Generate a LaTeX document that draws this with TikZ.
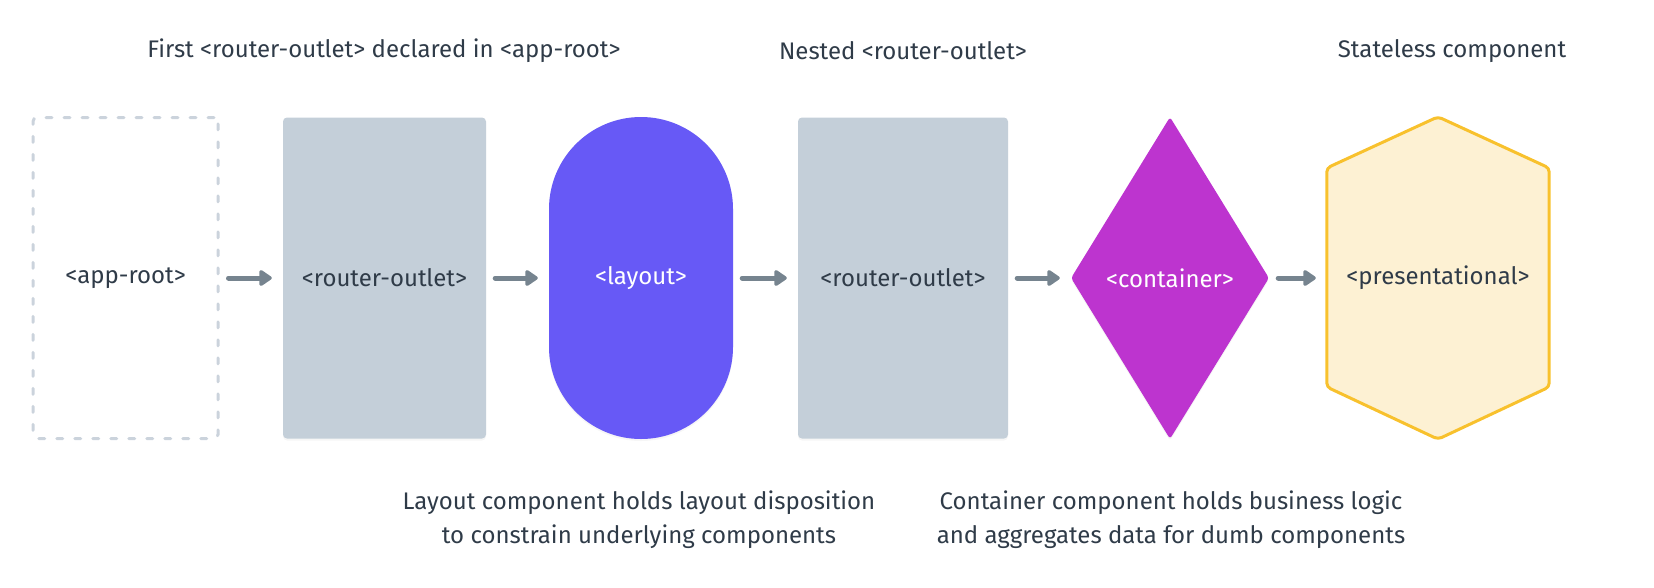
\documentclass[tikz,border=0pt]{standalone}
\usepackage{fontspec}
\setmainfont{Fira Sans}
\usetikzlibrary{arrows.meta,shapes.geometric,calc,backgrounds,shadows}
\definecolor{txt}{HTML}{2F3B48}
\definecolor{boxgray}{HTML}{C4CFD9}
\definecolor{dashc}{HTML}{CBD3DC}
\definecolor{arrowc}{HTML}{76848F}
\definecolor{layoutc}{HTML}{6759F6}
\definecolor{containerc}{HTML}{BD34CF}
\definecolor{hexfill}{HTML}{FDF1D3}
\definecolor{hexline}{HTML}{F8C12D}
\begin{document}
\begin{tikzpicture}[x=1pt,y=-1pt,
  every node/.style={font=\fontsize{24}{34}\selectfont, text=txt, inner sep=0pt},
  softshadow/.style={drop shadow={opacity=0.07, shadow xshift=0pt, shadow yshift=-2pt}},
  dashbox/.style={draw=dashc, line width=3pt, dash pattern=on 6pt off 12pt, line cap=round, rounded corners=4pt},
  graybox/.style={fill=boxgray, rounded corners=4pt, softshadow},
  stadium/.style={fill=layoutc, rounded corners=92pt, softshadow, text=white},
  rhombus/.style={diamond, fill=containerc, softshadow, text=white, aspect=0.615, rounded corners=3pt},
  hexs/.style={fill=hexfill, draw=hexline, line width=3pt, rounded corners=4pt, line join=round},
  flow/.style={-{Triangle[length=14pt,width=18pt,round]}, line width=5pt, draw=arrowc, line cap=round, shorten <=9pt, shorten >=11pt},
  caption/.style={align=center}
]
\useasboundingbox (0,0) rectangle (1654,587);

\node[dashbox, minimum width=185pt, minimum height=321pt] (root) at (125.5,278) {<app-root>};
\node[graybox, minimum width=203pt, minimum height=321pt] (ro1) at (384.5,278) {<router-outlet>};
\node[stadium, minimum width=184pt, minimum height=322pt] (layout) at (641,278) {<layout>};
\node[graybox, minimum width=210pt, minimum height=321pt] (ro2) at (903,278) {<router-outlet>};
\node[rhombus, minimum width=198pt, minimum height=322pt] (cont) at (1170,278) {<container>};
\node[minimum width=222pt, minimum height=322pt] (pres) at (1438,278) {<presentational>};

\begin{scope}[on background layer]
\draw[hexs] (pres.north) -- ($(pres.east)+(0,-110)$) -- ($(pres.east)+(0,109)$) -- (pres.south) -- ($(pres.west)+(0,109)$) -- ($(pres.west)+(0,-110)$) -- cycle;
\end{scope}

\draw[flow] (root) -- (ro1);
\draw[flow] (ro1) -- (layout);
\draw[flow] (layout) -- (ro2);
\draw[flow] (ro2) -- (cont);
\draw[flow] (cont) -- (pres.west);

\node (t1) at (384,51) {First <router-outlet> declared in <app-root>};
\node (t2) at (903,51) {Nested <router-outlet>};
\node (t3) at (1452,51) {Stateless component};
\node[caption] (b1) at (639,520) {Layout component holds layout disposition\\to constrain underlying components};
\node[caption] (b2) at (1171,520) {Container component holds business logic\\and aggregates data for dumb components};
\end{tikzpicture}
\end{document}
